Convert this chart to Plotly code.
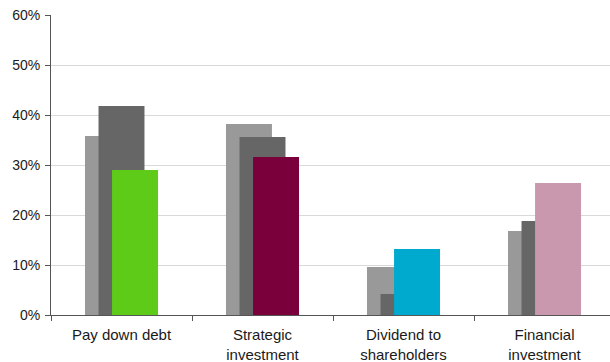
import plotly.graph_objects as go

categories = ["Pay down debt", "Strategic<br>investment", "Dividend to<br>shareholders", "Financial<br>investment"]
series_light = [35.8, 38.2, 9.6, 16.8]
series_dark = [41.8, 35.6, 4.2, 18.8]
series_color = [29.0, 31.6, 13.2, 26.4]
color_third = ["#5FCB19", "#7A003C", "#00A9CE", "#C997AE"]
y_ticks = [0, 10, 20, 30, 40, 50, 60]
y_labels = [f"{v}%" for v in y_ticks]

W = 0.326
fig = go.Figure()
fig.add_trace(go.Bar(x=categories, y=series_light, width=W, offset=-0.259,
                     marker=dict(color="#999999", line=dict(width=0))))
fig.add_trace(go.Bar(x=categories, y=series_dark, width=W, offset=-0.163,
                     marker=dict(color="#666666", line=dict(width=0))))
fig.add_trace(go.Bar(x=categories, y=series_color, width=W, offset=-0.067,
                     marker=dict(color=color_third, line=dict(width=0))))

fig.update_layout(
    width=610, height=362,
    margin=dict(l=51, r=0, t=15, b=47),
    barmode="overlay",
    showlegend=False,
    plot_bgcolor="white", paper_bgcolor="white",
    font=dict(family="Liberation Sans, Arial, sans-serif", size=15, color="#000000"),
    xaxis=dict(
        type="category",
        range=[-0.5, 3.4645],
        tickvals=categories, ticktext=categories,
        ticks="", showgrid=False, zeroline=False,
        showline=True, linecolor="#555555", linewidth=1,
        tickfont=dict(size=15, color="#1a1a1a"),
        ticklabelstandoff=6,
        minor=dict(tickvals=[-0.5, 0.5, 1.5, 2.5], ticks="outside", ticklen=5,
                   tickcolor="#555555", showgrid=False),
    ),
    yaxis=dict(
        range=[0, 60],
        tickvals=y_ticks, ticktext=y_labels,
        ticks="outside", ticklen=5, tickcolor="#555555",
        showline=True, linecolor="#555555", linewidth=1,
        showgrid=True, gridcolor="#D9D9D9", gridwidth=1,
        zeroline=False,
        tickfont=dict(size=14, color="#1a1a1a"),
        ticklabelstandoff=2,
    ),
)

fig.write_html("out.html")
